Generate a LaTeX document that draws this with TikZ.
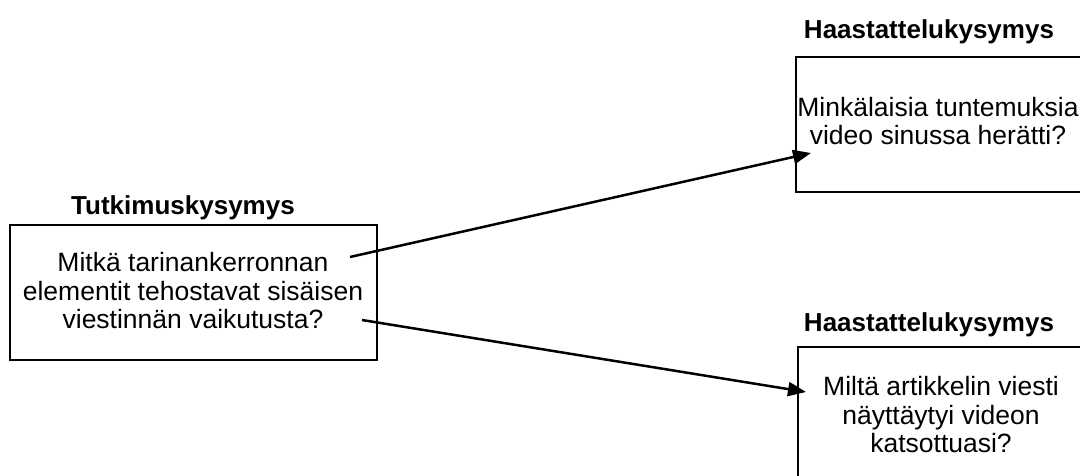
\documentclass[tikz,border=0pt]{standalone}
\usepackage{fontspec}
\setmainfont{Liberation Sans}
\usetikzlibrary{arrows.meta}
\begin{document}
\begin{tikzpicture}[x=1pt,y=-1pt,
  box/.style={draw=black,line width=2.5pt,rectangle,inner sep=0pt},
  body/.style={align=center,font=\fontsize{26.5}{28.5}\selectfont,inner sep=0pt},
  title/.style={font=\fontsize{26}{30}\bfseries\selectfont,inner sep=0pt},
  link/.style={line width=2.5pt,-{Triangle[length=18pt,width=14pt]}}]
\useasboundingbox (0,0) rectangle (1080,476);
% left box
\node[box,minimum width=367pt,minimum height=135pt] (q) at (193.5,292.5) {};
\node[body] (qt) at (193,291) {Mitkä tarinankerronnan\\elementit tehostavat sisäisen\\viestinnän vaikutusta?};
\node[title] (qh) at (183,208) {Tutkimuskysymys};
% right top box
\node[box,minimum width=288pt,minimum height=135pt] (a) at (940,124.5) {};
\node[body] (at) at (938,121) {Minkälaisia tuntemuksia\\video sinussa herätti?};
\node[title] (ah) at (929,32) {Haastattelukysymys};
% right bottom box
\node[box,minimum width=288pt,minimum height=135pt] (b) at (942,414.5) {};
\node[body] (bt) at (941,415) {Miltä artikkelin viesti\\näyttäytyi videon\\katsottuasi?};
\node[title] (bh) at (929,325) {Haastattelukysymys};
% connectors
\coordinate (s1) at (350,257);
\coordinate (e1) at (811,153);
\coordinate (s2) at (362,320);
\coordinate (e2) at (806,392);
\draw[link] (s1) -- (e1);
\draw[link] (s2) -- (e2);
\end{tikzpicture}
\end{document}
